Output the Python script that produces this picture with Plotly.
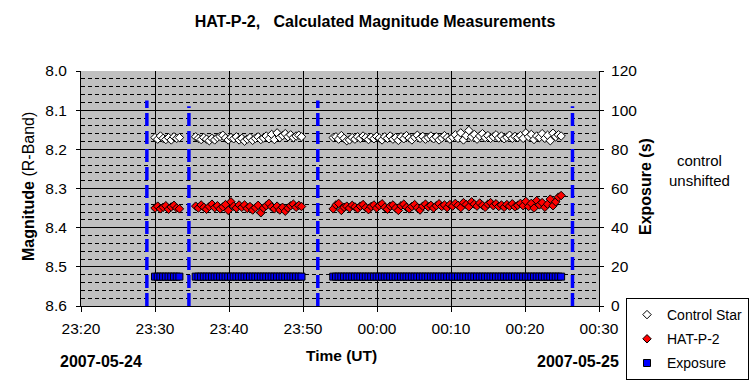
import plotly.graph_objects as go

# ---- data ----
seg1_times = ["23:30:00", "23:30:22", "23:30:44", "23:31:06", "23:31:28", "23:31:50",
              "23:32:12", "23:32:34", "23:32:56", "23:33:18"]
seg2_times = ["23:35:30", "23:35:52", "23:36:14", "23:36:36", "23:36:58", "23:37:20", "23:37:42",
              "23:38:04", "23:38:26", "23:38:48", "23:39:10", "23:39:32", "23:39:54", "23:40:16",
              "23:40:38", "23:41:00", "23:41:22", "23:41:44", "23:42:06", "23:42:28", "23:42:50",
              "23:43:12", "23:43:34", "23:43:56", "23:44:18", "23:44:40", "23:45:02", "23:45:24",
              "23:45:46", "23:46:08", "23:46:30", "23:46:52", "23:47:14", "23:47:36", "23:47:58",
              "23:48:20", "23:48:42", "23:49:04", "23:49:26", "23:49:48"]
seg3_times = ["23:54:05", "23:54:27", "23:54:49", "23:55:11", "23:55:33", "23:55:55", "23:56:17",
              "23:56:39", "23:57:01", "23:57:23", "23:57:45", "23:58:07", "23:58:29", "23:58:51",
              "23:59:13", "23:59:35", "23:59:57",
              "00:00:19", "00:00:41", "00:01:03", "00:01:25", "00:01:47", "00:02:09", "00:02:31",
              "00:02:53", "00:03:15", "00:03:37", "00:03:59", "00:04:21", "00:04:43", "00:05:05",
              "00:05:27", "00:05:49", "00:06:11", "00:06:33", "00:06:55", "00:07:17", "00:07:39",
              "00:08:01", "00:08:23", "00:08:45", "00:09:07", "00:09:29", "00:09:51",
              "00:10:13", "00:10:35", "00:10:57", "00:11:19", "00:11:41", "00:12:03", "00:12:25",
              "00:12:47", "00:13:09", "00:13:31", "00:13:53", "00:14:15", "00:14:37", "00:14:59",
              "00:15:21", "00:15:43", "00:16:05", "00:16:27", "00:16:49", "00:17:11", "00:17:33",
              "00:17:55", "00:18:17", "00:18:39", "00:19:01", "00:19:23", "00:19:45",
              "00:20:07", "00:20:29", "00:20:51", "00:21:13", "00:21:35", "00:21:57", "00:22:19",
              "00:22:41", "00:23:03", "00:23:25", "00:23:47", "00:24:09", "00:24:31", "00:24:53"]

control_seg1 = [8.170, 8.174, 8.166, 8.172, 8.175, 8.170, 8.176, 8.168, 8.172, 8.170]
control_seg2 = [8.168, 8.172, 8.175, 8.170, 8.174, 8.178, 8.172, 8.176, 8.170, 8.167,
                8.164, 8.171, 8.176, 8.170, 8.173, 8.168, 8.176, 8.172, 8.179, 8.174,
                8.170, 8.177, 8.172, 8.168, 8.175, 8.171, 8.166, 8.173, 8.162, 8.175,
                8.158, 8.170, 8.165, 8.160, 8.168, 8.163, 8.170, 8.166, 8.164, 8.168]
control_seg3 = [8.170, 8.168, 8.174, 8.165, 8.172, 8.178, 8.176, 8.170, 8.174, 8.168,
                8.172, 8.166, 8.170, 8.175, 8.169, 8.173, 8.167,
                8.171, 8.176, 8.168, 8.172, 8.166, 8.174, 8.170, 8.177, 8.168, 8.173,
                8.165, 8.171, 8.176, 8.169, 8.164, 8.172, 8.167, 8.174, 8.170, 8.166,
                8.173, 8.168, 8.176, 8.171, 8.165, 8.170, 8.174,
                8.169, 8.163, 8.172, 8.158, 8.176, 8.165, 8.152, 8.168, 8.162, 8.174,
                8.166, 8.160, 8.170, 8.165, 8.172, 8.168, 8.163, 8.171, 8.166, 8.173,
                8.169, 8.164, 8.172, 8.167, 8.170, 8.165, 8.172,
                8.158, 8.168, 8.162, 8.175, 8.166, 8.170, 8.160, 8.172, 8.164, 8.178,
                8.159, 8.168, 8.163, 8.166]

hat_seg1 = [8.350, 8.345, 8.352, 8.348, 8.344, 8.353, 8.347, 8.343, 8.350, 8.352]
hat_seg2 = [8.345, 8.350, 8.342, 8.348, 8.353, 8.346, 8.340, 8.349, 8.344, 8.352,
            8.347, 8.341, 8.356, 8.334, 8.345, 8.350, 8.342, 8.348, 8.342, 8.351,
            8.346, 8.355, 8.349, 8.343, 8.362, 8.350, 8.344, 8.338, 8.347, 8.352,
            8.345, 8.355, 8.348, 8.358, 8.350, 8.344, 8.340, 8.348, 8.343, 8.346]
hat_seg3 = [8.352, 8.342, 8.338, 8.356, 8.348, 8.345, 8.350, 8.343, 8.347, 8.352,
            8.345, 8.341, 8.349, 8.354, 8.346, 8.342, 8.350,
            8.344, 8.339, 8.348, 8.353, 8.345, 8.342, 8.350, 8.356, 8.344, 8.340,
            8.348, 8.352, 8.346, 8.341, 8.349, 8.355, 8.345, 8.340, 8.347, 8.343,
            8.350, 8.344, 8.339, 8.346, 8.342, 8.349, 8.341,
            8.345, 8.338, 8.343, 8.349, 8.336, 8.341, 8.347, 8.334, 8.340, 8.345,
            8.337, 8.343, 8.348, 8.340, 8.336, 8.344, 8.339, 8.346, 8.342, 8.348,
            8.341, 8.345, 8.339, 8.347, 8.343, 8.338, 8.344,
            8.333, 8.346, 8.338, 8.350, 8.331, 8.342, 8.336, 8.348, 8.340, 8.327,
            8.344, 8.334, 8.322, 8.318]

exposure_s = 15  # seconds, same for every frame

# vertical dashed markers (exposure axis)
marker_times = ["23:28:54", "23:34:35", "23:52:00", "00:26:25"]
marker_tops = [105, 102, 105, 102]

y_ticks = [8.0, 8.1, 8.2, 8.3, 8.4, 8.5, 8.6]
y2_ticks = [0, 20, 40, 60, 80, 100, 120]


def full(t):
    day = "2007-05-24" if t.startswith("23") else "2007-05-25"
    return day + " " + t


times = [full(t) for t in seg1_times + seg2_times + seg3_times]
control = control_seg1 + control_seg2 + control_seg3
hat = hat_seg1 + hat_seg2 + hat_seg3
exposure = [exposure_s for _ in times]

vx, vy = [], []
for t, top in zip(marker_times, marker_tops):
    vx += [full(t), full(t), None]
    vy += [0, top, None]

FONT = "Liberation Sans, Arial, sans-serif"
W, H = 749, 385
PL, PR, PT, PB = 81, 599, 71, 306  # plot area in pixels


def px(x, y):
    return (x - PL) / (PR - PL), 1 - (y - PT) / (PB - PT)


fig = go.Figure()
fig.add_trace(go.Scatter(x=vx, y=vy, mode="lines", yaxis="y2", showlegend=False,
                         line=dict(color="#0000FF", width=3.5, dash="13px,5px"),
                         hoverinfo="skip"))
fig.add_trace(go.Scatter(x=times, y=control, mode="markers", name="Control Star",
                         legendgroup="a",
                         marker=dict(symbol="diamond", size=6.5, color="white",
                                     line=dict(color="black", width=1))))
fig.add_trace(go.Scatter(x=times, y=hat, mode="markers", name="HAT-P-2",
                         legendgroup="b",
                         marker=dict(symbol="diamond", size=6.5, color="#FF0000",
                                     line=dict(color="black", width=1))))
fig.add_trace(go.Scatter(x=times, y=exposure, mode="markers", yaxis="y2", name="Exposure",
                         legendgroup="c",
                         marker=dict(symbol="square", size=7, color="#0000FF",
                                     line=dict(color="black", width=1))))

fig.update_layout(
    width=W, height=H,
    margin=dict(l=PL, r=W - PR, t=PT, b=H - PB, autoexpand=False),
    paper_bgcolor="white", plot_bgcolor="#C0C0C0",
    font=dict(family=FONT, size=15.5, color="black"),
    title=dict(text="<b>HAT-P-2,   Calculated Magnitude Measurements</b>",
               x=375 / W, xanchor="center", xref="container",
               y=1 - 21 / H, yanchor="middle", yref="container",
               font=dict(size=16, family=FONT)),
    xaxis=dict(type="date",
               range=["2007-05-24 23:20", "2007-05-25 00:30"],
               dtick=600000, tickformat="%H:%M",
               showgrid=True, gridcolor="black", gridwidth=1,
               showline=True, linecolor="black", linewidth=1,
               ticks="outside", ticklen=5, tickcolor="black",
               ticklabelstandoff=3,
               tickfont=dict(size=15.5), zeroline=False),
    yaxis=dict(range=[8.6, 8.0], tickvals=y_ticks,
               ticktext=[f"{v:.1f}" for v in y_ticks],
               showgrid=True, gridcolor="black", gridwidth=1,
               minor=dict(dtick=0.02, tick0=8.0, showgrid=True, gridcolor="black",
                          griddash="4px,3px", gridwidth=1),
               showline=True, linecolor="black", linewidth=1,
               ticks="outside", ticklen=4, tickcolor="black",
               ticklabelstandoff=6,
               tickfont=dict(size=15.5), zeroline=False),
    yaxis2=dict(range=[0, 120], tickvals=y2_ticks, overlaying="y", side="right",
                showgrid=False, zeroline=False,
                showline=True, linecolor="black", linewidth=1,
                ticks="outside", ticklen=4, tickcolor="black",
                ticklabelstandoff=4,
                tickfont=dict(size=15.5)),
    legend=dict(x=px(626, 0)[0], xanchor="left", y=px(0, 298)[1], yanchor="top",
                bgcolor="white", bordercolor="black", borderwidth=1,
                font=dict(size=14), traceorder="grouped", tracegroupgap=3,
                itemwidth=30),
    showlegend=True,
)


def note(text, x, y, size=16, angle=0):
    ax, ay = px(x, y)
    fig.add_annotation(text=text, x=ax, y=ay, xref="paper", yref="paper",
                       showarrow=False, textangle=angle,
                       xanchor="center", yanchor="middle", font=dict(size=size))


note("<b>Magnitude</b> (R-Band)", 28, 187, size=16, angle=-90)
note("<b>Exposure (s)</b>", 645, 187, size=16, angle=-90)
note("<b>Time (UT)</b>", 341, 355, size=15.5)
note("<b>2007-05-24</b>", 101, 361, size=16)
note("<b>2007-05-25</b>", 578, 361, size=16)
note("control<br>unshifted", 699, 170, size=15)

fig.write_html("out.html",
               config={"displayModeBar": False},
               post_script="document.body.style.margin='0px';document.body.style.overflow='hidden';")
